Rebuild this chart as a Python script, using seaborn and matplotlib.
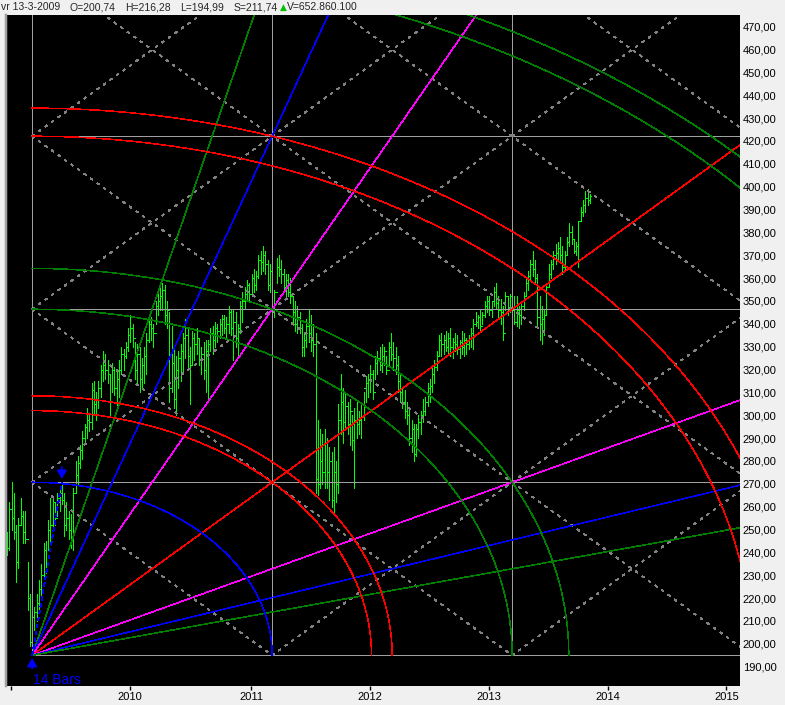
import numpy as np
import pandas as pd
import matplotlib
matplotlib.use("Agg")
import matplotlib.pyplot as plt
import seaborn as sns

# ============================
# DATA (weekly bars)
# ============================
first_bar_date = "2008-12-26"
years = [2009, 2010, 2011, 2012, 2013, 2014, 2015]
year_labels = ["", "2010", "2011", "2012", "2013", "2014", "2015"]

high = [
    249, 262, 271, 266, 252, 255, 264, 258, 258, 236,
    222, 216.28, 216, 222, 228, 235, 244, 245, 254, 264,
    264, 262, 266, 268, 270.69, 266, 262, 258, 257, 268,
    280, 282, 287, 293, 296, 303, 301, 314, 315, 310,
    315, 322, 328, 327, 324, 318, 323, 321, 319, 324,
    330, 329, 332, 338, 344, 340, 332, 331, 330, 325,
    330, 336, 344, 343, 340, 350, 355, 357, 358, 357,
    350, 345, 339, 330, 326, 328, 331, 336, 342, 338,
    330, 337, 336, 338, 334, 330, 332, 333, 333, 338,
    339, 341, 340, 342, 344, 344, 343, 348, 346, 346,
    345, 340, 350, 354, 356, 359, 358, 362, 364, 363,
    370, 372, 374, 372, 368, 366, 358, 355, 369, 370,
    368, 364, 362, 362, 360, 352, 350, 348, 345, 340,
    336, 342, 346, 344, 340, 336, 298, 294, 292, 294,
    290, 286, 284, 286, 280, 305, 318, 312, 310, 306,
    307, 300, 303, 306, 302, 306, 310, 317, 318, 322,
    320, 326, 328, 330, 331, 330, 326, 332, 336, 332,
    330, 326, 318, 312, 311, 306, 303, 298, 296, 296,
    300, 302, 307, 308, 314, 316, 322, 324, 328, 335,
    336, 335, 337, 336, 338, 334, 336, 335, 333, 337,
    336, 334, 335, 338, 342, 345, 344, 346, 345, 350,
    352, 352, 350, 356, 358, 352, 351, 348, 354, 352,
    353, 355, 352, 352, 348, 350, 354, 360, 363, 368,
    372, 368, 362, 352, 348, 346, 358, 366, 368, 372,
    375, 376, 378, 374, 372, 378, 384, 383, 377, 376,
    385, 391, 394, 398, 399, 397,
]
low = [
    239, 241, 250, 246, 227, 233, 252, 244, 244, 215,
    199, 194.99, 206, 210, 215, 219, 229, 231, 241, 244,
    250, 252, 256, 258, 261, 247, 250, 246, 242, 241,
    266, 270, 277, 281, 288, 290, 293, 294, 300, 298,
    303, 308, 315, 316, 314, 300, 310, 309, 302, 308,
    318, 320, 325, 328, 332, 330, 316, 314, 310, 312,
    314, 318, 332, 333, 330, 340, 344, 346, 346, 340,
    338, 306, 310, 303, 300, 312, 315, 318, 325, 320,
    305, 322, 324, 327, 322, 318, 316, 310, 307, 328,
    327, 330, 332, 334, 335, 336, 334, 336, 335, 324,
    330, 325, 336, 341, 347, 351, 350, 352, 354, 355,
    360, 362, 363, 362, 355, 354, 342, 343, 358, 361,
    358, 354, 352, 352, 349, 340, 337, 336, 336, 326,
    326, 330, 332, 328, 326, 266, 265, 268, 270, 268,
    268, 263, 260, 257, 262, 266, 292, 288, 294, 292,
    287, 285, 268, 290, 292, 290, 298, 306, 308, 310,
    307, 316, 318, 320, 319, 322, 318, 322, 324, 320,
    318, 310, 306, 303, 299, 296, 287, 284, 280, 282,
    290, 292, 297, 300, 304, 306, 310, 314, 320, 326,
    326, 327, 328, 327, 326, 325, 328, 327, 325, 327,
    326, 327, 329, 330, 329, 339, 338, 337, 340, 343,
    345, 344, 343, 348, 347, 342, 340, 333, 346, 344,
    345, 344, 340, 339, 338, 340, 346, 352, 355, 359,
    361, 358, 339, 333, 331, 335, 344, 356, 360, 364,
    366, 368, 368, 362, 364, 370, 374, 375, 371, 370,
    365, 385, 387, 389, 392, 393,
]
close = [
    242, 259, 255, 249, 236, 252, 256, 249, 246, 220,
    200.74, 211.74, 214, 218, 224, 230, 241, 236, 250, 252,
    262, 255, 264, 266, 263, 252, 255, 250, 246, 266,
    274, 279, 285, 290, 295, 298, 297, 311, 305, 307,
    312, 320, 322, 320, 318, 306, 320, 312, 316, 320,
    327, 326, 330, 335, 338, 334, 320, 327, 316, 322,
    326, 333, 340, 338, 336, 348, 350, 352, 355, 344,
    346, 312, 323, 307, 320, 325, 328, 334, 335, 326,
    322, 334, 331, 334, 324, 327, 320, 328, 331, 336,
    333, 338, 337, 340, 342, 338, 340, 345, 338, 341,
    334, 338, 348, 350, 353, 357, 353, 360, 357, 361,
    368, 367, 370, 366, 357, 363, 345, 354, 365, 364,
    362, 356, 359, 354, 352, 345, 340, 343, 338, 330,
    333, 339, 336, 333, 331, 272, 270, 280, 275, 288,
    275, 280, 263, 275, 270, 298, 306, 297, 304, 296,
    302, 289, 298, 296, 298, 305, 312, 314, 316, 318,
    310, 323, 325, 322, 326, 328, 320, 330, 327, 325,
    322, 315, 310, 306, 302, 300, 290, 294, 283, 294,
    297, 300, 302, 306, 312, 313, 318, 321, 326, 333,
    331, 333, 330, 334, 330, 332, 331, 329, 332, 330,
    333, 331, 334, 336, 340, 341, 343, 339, 344, 348,
    350, 346, 350, 354, 349, 346, 345, 336, 352, 347,
    352, 346, 341, 346, 344, 348, 352, 358, 361, 366,
    364, 360, 343, 340, 342, 344, 356, 362, 366, 370,
    371, 373, 370, 365, 370, 376, 380, 377, 372, 374,
    385, 389, 392, 395, 394, 396,
]

# Gann square: built on the first 14-bar swing (low bar 11 -> high bar 24)
swing_bars = 14
origin_bar = 11
swing_high_bar = 24
unit_bars = 105
fan_ratios = [4, 3, 2, 1, 1 / 2, 1 / 3, 1 / 4]
fan_colors = ["#008000", "#0000ff", "#ff00ff", "#ff0000", "#ff00ff", "#0000ff", "#008000"]
arc_radii = [1, np.sqrt(2), 1.5, 2, np.sqrt(5), 3, np.sqrt(10), 4, np.sqrt(17)]
arc_colors = ["#0000ff", "#ff0000", "#ff0000", "#008000", "#008000",
              "#ff0000", "#ff0000", "#008000", "#008000"]

header = ["vr 13-3-2009", "O=200,74", "H=216,28", "L=194,99", "S=211,74"]
volume_text = "V=652.860.100"

origin_price = low[origin_bar]
swing_high = high[swing_high_bar]
unit_price = swing_high - origin_price

# ============================
# STYLE
# ============================
sns.set_style("dark")
plt.rcParams["font.family"] = ["Liberation Sans", "DejaVu Sans"]
plt.rcParams["lines.scale_dashes"] = False

W, H = 785, 705
fig = plt.figure(figsize=(W / 100, H / 100), dpi=100, facecolor="#f0f0f0")
ax = fig.add_axes([6 / W, 19 / H, 734 / W, 671 / H])
ax.set_facecolor("black")

PX = 0.72      # one pixel in points
THIN = 0.4     # diagonal lines (non antialiased)


def gx(t):
    return origin_bar + np.asarray(t) * unit_bars


def gy(p):
    return origin_price + np.asarray(p) * unit_price


# ============================
# PRICE BARS
# ============================
df = pd.DataFrame({"high": high, "low": low, "close": close})
df["open"] = df["close"].shift(1).fillna(df["close"].iloc[0])
df["idx"] = np.arange(len(df))

bar_kw = dict(colors="#00ff00", lw=PX, antialiased=False, zorder=2)
ax.vlines(df["idx"], df["low"], df["high"], **bar_kw)
ax.hlines(df["open"], df["idx"] - 0.5, df["idx"], **bar_kw)
ax.hlines(df["close"], df["idx"], df["idx"] + 0.5, **bar_kw)

# ============================
# GANN OVERLAY
# ============================
grid_kw = dict(color="#a0a0a0", lw=PX, antialiased=False, zorder=3)
for t in range(3):
    ax.plot([gx(t), gx(t)], [gy(0), gy(5)], **grid_kw)
for p in range(4):
    ax.plot([gx(0), gx(4)], [gy(p), gy(p)], **grid_kw)

# dashed diagonals of every square
dash_kw = dict(color="#808080", lw=THIN, antialiased=False, zorder=3, dashes=(1.6, 4.3))
for k in range(-4, 8):
    if k == 0:
        continue
    t0 = max(0, -k)
    ax.plot(gx([t0, 5]), gy([t0 + k, 5 + k]), **dash_kw)
for k in range(1, 10):
    ax.plot(gx([0, k]), gy([k, 0]), **dash_kw)

# fan lines
for r, c in zip(fan_ratios, fan_colors):
    t_end = 5 / max(r, 1)
    sns.lineplot(x=gx([0, t_end]), y=gy([0, t_end * r]), color=c, linewidth=THIN,
                 antialiased=False, sort=False, estimator=None, ax=ax, zorder=4)

# arcs
theta = np.linspace(0, np.pi / 2, 400)
for r, c in zip(arc_radii, arc_colors):
    sns.lineplot(x=gx(r * np.cos(theta)), y=gy(r * np.sin(theta)), color=c, linewidth=THIN,
                 antialiased=False, sort=False, estimator=None, ax=ax, zorder=4)

# swing annotation
ax.plot([origin_bar, swing_high_bar], [origin_price, swing_high], color="#0000ff",
        lw=THIN, dashes=(2.2, 2.2), antialiased=False, zorder=5)
arrow = dict(arrowstyle="-|>,head_length=0.5,head_width=0.3", color="#0000ff", lw=1.2)
ax.annotate("", xy=(swing_high_bar, swing_high + 0.3), xytext=(swing_high_bar, swing_high + 8),
            arrowprops=arrow, zorder=6)
ax.annotate("", xy=(origin_bar, origin_price), xytext=(origin_bar, origin_price - 7),
            arrowprops=arrow, zorder=6, annotation_clip=False)
ax.text(origin_bar + 0.4, 182.6, f"{swing_bars} Bars", color="#0000ff", fontsize=10,
        va="baseline", ha="left")

# ============================
# AXES
# ============================
ax.set_xlim(-0.4375, 320.69)
ax.set_ylim(181.56, 475.12)

dates = pd.date_range(first_bar_date, periods=340, freq="W-FRI")
year_pos = [int(np.argmax(dates.year == y)) + 0.75 for y in years]
ax.set_xticks(year_pos)
ax.set_xticklabels(year_labels)
ax.tick_params(axis="x", direction="out", length=3, width=1, color="black", pad=1.5,
               labelsize=8, labelcolor="black", bottom=True)

price_ticks = np.arange(190, 471, 10)
ax.yaxis.tick_right()
ax.set_yticks(price_ticks)
ax.set_yticklabels([f"{v:.2f}".replace(".", ",") for v in price_ticks])
ax.tick_params(axis="y", length=0, pad=2, labelsize=8, labelcolor="black")

ax.grid(False)
for side in ["top", "right", "bottom"]:
    ax.spines[side].set_visible(False)
ax.spines["left"].set_color("#a0a0a0")
ax.spines["left"].set_linewidth(2.5 * PX)

# ============================
# HEADER LINE
# ============================
renderer = fig.canvas.get_renderer()
y_head = 1 - 7 / H
parts = [fig.text(0, y_head, s, fontsize=7.5, va="center", ha="left") for s in header]
tri = fig.text(0, y_head, "▲", fontsize=6.5, va="center", ha="left", color="#00c000",
               family="DejaVu Sans")
vol = fig.text(0, y_head, volume_text, fontsize=7.5, va="center", ha="left")
widths = [t.get_window_extent(renderer).width for t in parts]
tri_w = tri.get_window_extent(renderer).width
vol_w = vol.get_window_extent(renderer).width
gap = (358 - 1 - sum(widths) - tri_w - vol_w - 3) / (len(parts) - 1)
xpos = 1
for t, w in zip(parts, widths):
    t.set_x(xpos / W)
    xpos += w + gap
xpos = xpos - gap + 3
tri.set_x(xpos / W)
vol.set_x((xpos + tri_w) / W)

fig.savefig("out.png", dpi=100, facecolor=fig.get_facecolor())
